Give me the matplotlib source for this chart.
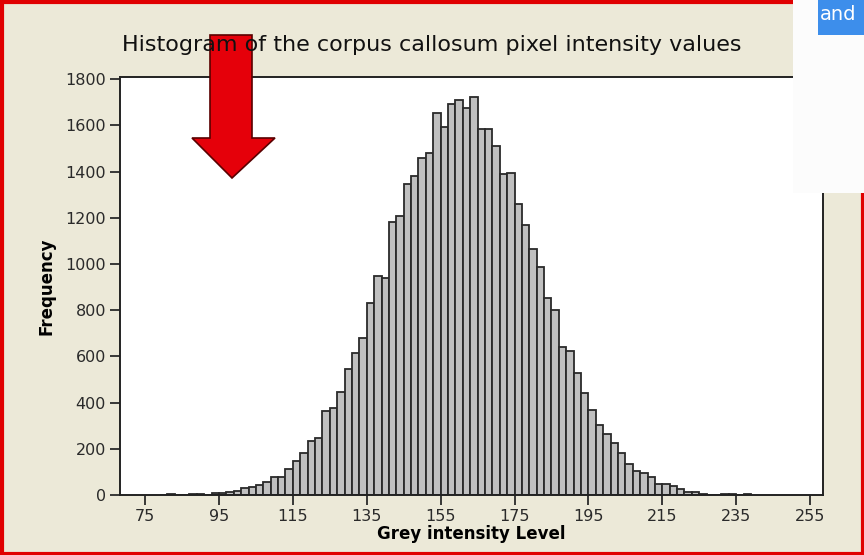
import matplotlib
matplotlib.use('Agg')
import matplotlib.pyplot as plt
from matplotlib.patches import Rectangle, Polygon

# histogram bins (grey level), width 2, first bin starts at 79
bin_start = 79
bin_width = 2
freq = [0, 4, 0, 0, 4, 4, 2, 7, 7, 15,
        17, 29, 36, 42, 55, 79, 79, 111, 149, 181,
        234, 246, 364, 375, 447, 544, 613, 680, 829, 948,
        939, 1180, 1206, 1346, 1380, 1457, 1478, 1652, 1594, 1691,
        1710, 1677, 1721, 1586, 1586, 1511, 1388, 1392, 1258, 1169,
        1065, 988, 851, 801, 639, 625, 530, 440, 370, 303,
        264, 226, 180, 134, 104, 97, 79, 46, 46, 40,
        26, 14, 13, 6, 2, 0, 3, 3, 0, 4]

x_ticks = [75, 95, 115, 135, 155, 175, 195, 215, 235, 255]
y_ticks = [0, 200, 400, 600, 800, 1000, 1200, 1400, 1600, 1800]

title = 'Histogram of the corpus callosum pixel intensity values'
xlabel = 'Grey intensity Level'
ylabel = 'Frequency'

W, H = 864, 555
fig = plt.figure(figsize=(W / 100, H / 100), dpi=100)
fig.patch.set_facecolor('#ECE9D8')

ax = fig.add_axes([120 / W, 1 - 495 / H, (823 - 120) / W, (495 - 77) / H])
ax.set_facecolor('white')

edges = [bin_start + i * bin_width for i in range(len(freq))]
ax.bar(edges, freq, width=bin_width, align='edge', color='#C0C0C0',
       edgecolor='#2a2a2a', linewidth=1.3)

ax.set_xlim(68.2, 258.5)
ax.set_ylim(0, 1809)
ax.set_xticks(x_ticks)
ax.set_yticks(y_ticks)
ax.tick_params(direction='out', length=7, width=1.3, labelsize=11.5,
               colors='#2a2a2a', pad=3)
for s in ax.spines.values():
    s.set_linewidth(1.4)
    s.set_color('#222222')

ax.set_xlabel(xlabel, fontsize=12, fontweight='bold', labelpad=1)
ax.set_ylabel(ylabel, fontsize=12, fontweight='bold', labelpad=7)
fig.text(432 / W, 1 - 45 / H, title, ha='center', va='center',
         fontsize=16, color='#111111')

# red frame around the screenshot
fig.add_artist(Rectangle((1.5 / W, 1.5 / H), (W - 3) / W, (H - 3) / H,
                         transform=fig.transFigure, fill=False,
                         edgecolor='#E00000', linewidth=3))

# white overlay box top right, with highlighted word
fig.add_artist(Rectangle((793 / W, 1 - 193 / H), (W - 793) / W, 193 / H,
                         transform=fig.transFigure, facecolor='#FCFCFC',
                         edgecolor='none'))
fig.add_artist(Rectangle((818 / W, 1 - 35 / H), (W - 818) / W, 35 / H,
                         transform=fig.transFigure, facecolor='#3D8EEB',
                         edgecolor='none'))
fig.text(820 / W, 1 - 14 / H, 'and', color='white', fontsize=14,
         ha='left', va='center')

# red arrow pointing down
arrow = [(210, 35), (252, 35), (252, 138), (275, 138), (232, 178),
         (192, 138), (210, 138)]
fig.add_artist(Polygon([(x / W, 1 - y / H) for x, y in arrow],
                       closed=True, transform=fig.transFigure,
                       facecolor='#E5000A', edgecolor='#5a0000',
                       linewidth=1.2))

fig.savefig('out.png', dpi=100, facecolor=fig.get_facecolor())
